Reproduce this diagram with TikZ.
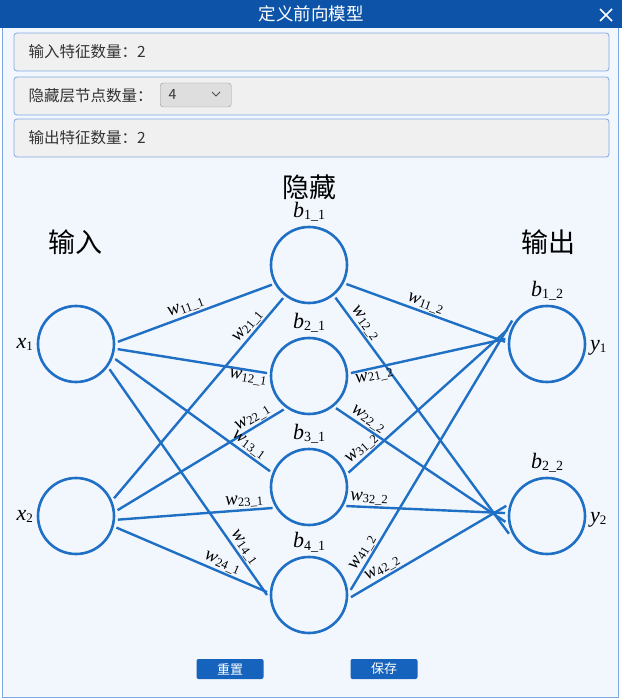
\documentclass[tikz,border=0pt]{standalone}
\usepackage{fontspec}
\setmainfont{Liberation Serif}
\newfontfamily\cjk{Noto Sans CJK SC}
\usetikzlibrary{positioning}
\definecolor{barblue}{HTML}{0D54A8}
\definecolor{netblue}{HTML}{1F6FC5}
\definecolor{bodybg}{HTML}{F2F7FE}
\definecolor{panelbg}{HTML}{F0F0F0}
\definecolor{panelline}{HTML}{80A8E0}
\definecolor{btnblue}{HTML}{1663BE}
\newcommand{\nlabel}[3]{\textit{#1}\raisebox{-0.2ex}{\fontsize{#3}{#3}\selectfont #2}}
\begin{document}
\begin{tikzpicture}[x=1pt,y=-1pt,
  neuron/.style={circle,draw=netblue,line width=2.6pt,minimum size=76pt,inner sep=0pt,outer sep=4pt},
  conn/.style={draw=netblue,line width=2.4pt},
  wt/.style={sloped,above,inner sep=1pt,font=\fontsize{19}{19}\selectfont},
  bt/.style={inner sep=1pt,font=\fontsize{22}{22}\selectfont},
  heading/.style={font=\cjk\fontsize{27}{27}\selectfont},
  panel/.style={draw=panelline,fill=panelbg,rounded corners=3pt,line width=0.8pt},
  paneltext/.style={anchor=west,text=black!80,font=\cjk\fontsize{15.5}{15.5}\selectfont},
  button/.style={fill=btnblue,rounded corners=2pt,minimum width=67pt,minimum height=20pt,text=white,font=\cjk\fontsize{13}{13}\selectfont}]
  \useasboundingbox (0,0) rectangle (622,700);
  \fill[white] (0,0) rectangle (622,700);
  \fill[bodybg] (2,28) rectangle (618,697);
  \draw[panelline,line width=1pt] (2,28) -- (2,697) -- (618,697) -- (618,28);
  \fill[barblue] (0,0) rectangle (622,28);
  \node[text=white,font=\cjk\fontsize{17.5}{17.5}\selectfont] (title) at (311,14) {定义前向模型};
  \draw[white,line width=1.6pt] (600,9) -- (612,21) (600,21) -- (612,9);

  \draw[panel] (14,33) rectangle (609,71);
  \node[paneltext] (nin) at (25,52) {输入特征数量：2};
  \draw[panel] (14,77) rectangle (609,115);
  \node[paneltext] (nhid) at (25,96) {隐藏层节点数量：};
  \node[draw=black!40,fill=black!13,rounded corners=3pt,minimum width=71pt,minimum height=24pt,anchor=west] (combo) at (160,95) {};
  \node[anchor=west,text=black!80,font=\cjk\fontsize{14}{14}\selectfont] (nval) at (165,95) {4};
  \draw[black!70,line width=1pt] (212,92) -- (216,96) -- (220,92);
  \draw[panel] (14,119) rectangle (609,157);
  \node[paneltext] (nout) at (25,138) {输出特征数量：2};

  \node[heading] (hin) at (75,242) {输入};
  \node[heading] (hhid) at (309,187) {隐藏};
  \node[heading] (hout) at (548,242) {输出};

  \node[neuron] (x1) at (76,344) {};
  \node[neuron] (x2) at (76,516) {};
  \node[neuron] (h1) at (309,265) {};
  \node[neuron] (h2) at (309,376) {};
  \node[neuron] (h3) at (309,487) {};
  \node[neuron] (h4) at (309,595) {};
  \node[neuron] (y1) at (547,344) {};
  \node[neuron] (y2) at (547,516) {};

  \node[bt,left=0pt of x1] (lx1) {\nlabel{x}{1}{13}};
  \node[bt,left=0pt of x2] (lx2) {\nlabel{x}{2}{13}};
  \node[bt,above=0pt of h1] (bh1) {\nlabel{b}{1\_1}{14}};
  \node[bt,above=0pt of h2] (bh2) {\nlabel{b}{2\_1}{14}};
  \node[bt,above=0pt of h3] (bh3) {\nlabel{b}{3\_1}{14}};
  \node[bt,above=0pt of h4] (bh4) {\nlabel{b}{4\_1}{14}};
  \node[bt,above=0pt of y1] (by1) {\nlabel{b}{1\_2}{14}};
  \node[bt,above=0pt of y2] (by2) {\nlabel{b}{2\_2}{14}};
  \node[bt,right=0pt of y1,yshift=-4pt] (ly1) {\nlabel{y}{1}{13}};
  \node[bt,right=0pt of y2,yshift=-4pt] (ly2) {\nlabel{y}{2}{13}};

  \draw[conn] (x1.3) -- node[wt,pos=0.46] (w111) {\nlabel{w}{11\_1}{12.5}} (h1.208);
  \draw[conn] (x2.25) -- node[wt,pos=0.83] (w211) {\nlabel{w}{21\_1}{12.5}} (h1.232);
  \draw[conn] (x1.-7) -- node[wt,below,pos=0.88] (w121) {\nlabel{w}{12\_1}{12.5}} (h2.176);
  \draw[conn] (x2.8) -- node[wt,pos=0.84] (w221) {\nlabel{w}{22\_1}{12.5}} (h2.233);
  \draw[conn] (x1.-21) -- node[wt,pos=0.83] (w131) {\nlabel{w}{13\_1}{12.5}} (h3.158);
  \draw[conn] (x2.-5) -- node[wt,pos=0.82] (w231) {\nlabel{w}{23\_1}{12.5}} (h3.210);
  \draw[conn] (x1.-37) -- node[wt,pos=0.81] (w141) {\nlabel{w}{14\_1}{12.5}} (h4.180);
  \draw[conn] (x2.-16) -- node[wt,pos=0.68] (w241) {\nlabel{w}{24\_1}{12.5}} (h4.176);

  \draw[conn] (h1.-27) -- node[wt,pos=0.48] (w112) {\nlabel{w}{11\_2}{12.5}} (y1.177);
  \draw[conn] (h1.-51) -- node[wt,pos=0.13] (w122) {\nlabel{w}{12\_2}{12.5}} (y2.205);
  \draw[conn] (h2.4) -- node[wt,below,pos=0.14] (w212) {\nlabel{w}{21\_2}{12.5}} (y1.173);
  \draw[conn] (h2.-50) -- node[wt,pos=0.16] (w222) {\nlabel{w}{22\_2}{12.5}} (y2.188);
  \draw[conn] (h3.20) -- node[wt,pos=0.12] (w312) {\nlabel{w}{31\_2}{12.5}} (y1.160);
  \draw[conn] (h3.-27) -- node[wt,pos=0.14] (w322) {\nlabel{w}{32\_2}{12.5}} (y2.176);
  \draw[conn] (h4.7) -- node[wt,pos=0.12] (w412) {\nlabel{w}{41\_2}{12.5}} (y1.146);
  \draw[conn] (h4.-3) -- node[wt,pos=0.23] (w422) {\nlabel{w}{42\_2}{12.5}} (y2.166);

  \node[button] (reset) at (230,669) {重置};
  \node[button] (save) at (384,669) {保存};
\end{tikzpicture}
\end{document}
